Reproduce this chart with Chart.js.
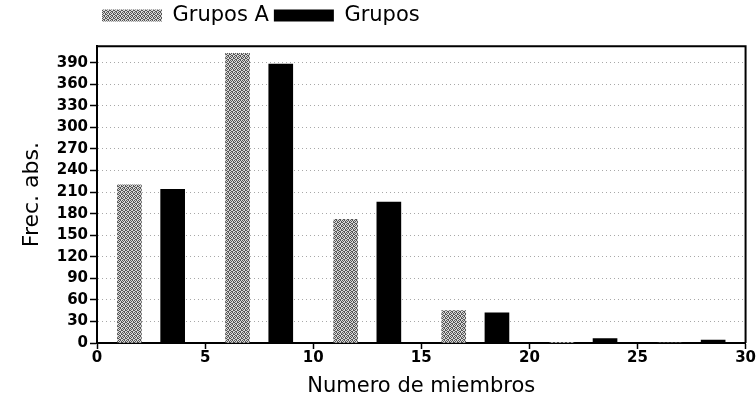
<!DOCTYPE html>
<html>
<head>
<meta charset="utf-8">
<script src="https://cdn.jsdelivr.net/npm/chart.js@4/dist/chart.umd.min.js"></script>
<style>
  body { margin: 0; background: #fff; }
</style>
</head>
<body>
<canvas id="histChart" width="756" height="403"></canvas>
<script>
// data
const posA = [1.5, 6.5, 11.5, 16.5, 21.5, 26.5];
const grupoA = [220, 403, 172, 45, 1, 0];
const posB = [3.5, 8.5, 13.5, 18.5, 23.5, 28.5];
const grupoB = [214, 388, 196, 42, 6, 4];
const labelA = 'Grupos A';
const labelB = 'Grupos';
const yTicks = [0, 30, 60, 90, 120, 150, 180, 210, 240, 270, 300, 330, 360, 390];
const xTicks = [0, 5, 10, 15, 20, 25, 30];

// dithered grey like the scan
const pc = document.createElement('canvas');
pc.width = 4; pc.height = 4;
const pctx = pc.getContext('2d');
pctx.fillStyle = '#d8d8d8';
pctx.fillRect(0, 0, 4, 4);
pctx.fillStyle = '#555';
const dots = [[0, 0], [2, 0], [1, 1], [3, 1], [1, 2], [2, 2], [0, 3], [3, 3]];
dots.forEach(d => pctx.fillRect(d[0], d[1], 1, 1));
const greyFill = pctx.createPattern(pc, 'repeat');

const ctx = document.getElementById('histChart').getContext('2d');

// top and right edges of the plot box
const frame = {
  id: 'frame',
  afterDatasetsDraw(chart) {
    const { ctx, chartArea: { left, right, top, bottom } } = chart;
    ctx.save();
    ctx.strokeStyle = '#000';
    ctx.lineWidth = 2;
    ctx.beginPath();
    ctx.moveTo(left, top);
    ctx.lineTo(right, top);
    ctx.lineTo(right, bottom);
    ctx.stroke();
    ctx.restore();
  }
};

new Chart(ctx, {
  type: 'bar',
  data: {
    datasets: [{
      label: labelA,
      data: posA.map((x, i) => ({ x: x, y: grupoA[i] })),
      backgroundColor: greyFill,
      borderWidth: 0
    }, {
      label: labelB,
      data: posB.map((x, i) => ({ x: x, y: grupoB[i] })),
      backgroundColor: '#000',
      borderWidth: 0
    }]
  },
  options: {
    responsive: false,
    animation: false,
    grouped: false,
    barThickness: 24,
    layout: { padding: { right: 8 } },
    plugins: {
      legend: {
        position: 'top',
        align: 'start',
        fullSize: false,
        labels: {
          boxWidth: 60,
          boxHeight: 12,
          padding: 5,
          color: '#000',
          font: { family: 'DejaVu Sans', size: 21 }
        }
      },
      title: {
        display: true,
        text: '',
        weight: 500,
        font: { size: 1 },
        padding: { top: 0, bottom: 9 }
      },
      tooltip: { enabled: false }
    },
    scales: {
      x: {
        type: 'linear',
        min: 0,
        max: 30,
        offset: false,
        afterBuildTicks(axis) {
          axis.ticks = xTicks.map(v => ({ value: v }));
        },
        afterFit(axis) { axis.height = 60; },
        grid: {
          offset: false,
          drawOnChartArea: false,
          tickLength: 6,
          tickColor: '#000',
          tickWidth: 1.5
        },
        border: { color: '#000', width: 2 },
        ticks: {
          padding: 0,
          maxRotation: 0,
          color: '#000',
          font: { family: 'DejaVu Sans', size: 15, weight: 'bold' }
        },
        title: {
          display: true,
          text: 'Numero de miembros',
          color: '#000',
          padding: { top: 0, bottom: 4 },
          font: { family: 'DejaVu Sans', size: 21 }
        }
      },
      y: {
        min: 0,
        max: 413,
        afterBuildTicks(axis) {
          axis.ticks = yTicks.map(v => ({ value: v }));
        },
        afterFit(axis) { axis.width = 97; },
        grid: {
          color: '#a8a8a8',
          lineWidth: 1,
          tickLength: 7,
          tickColor: '#000',
          tickWidth: 1.5
        },
        border: { color: '#000', width: 2, dash: [1, 3] },
        ticks: {
          padding: 2,
          color: '#000',
          font: { family: 'DejaVu Sans', size: 15, weight: 'bold' }
        },
        title: {
          display: true,
          text: 'Frec. abs.',
          color: '#000',
          padding: { top: 19, bottom: 0 },
          font: { family: 'DejaVu Sans', size: 22 }
        }
      }
    }
  },
  plugins: [frame]
});
</script>
</body>
</html>
